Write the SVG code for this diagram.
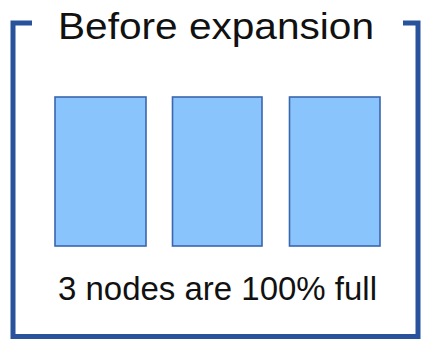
<svg xmlns="http://www.w3.org/2000/svg" width="421" height="339" viewBox="0 0 421 339">
<style>
.frame{fill:none;stroke:#28529C;stroke-width:5}
.node rect{fill:#89C4FC;stroke:#3A66AE;stroke-width:1.6}
.t{font-family:"Liberation Sans",Arial,sans-serif;fill:#111}
</style>
<rect width="421" height="339" fill="#fff"/>
<g id="frame">
<polyline class="frame" points="32,23 13,23 13,336.5 418,336.5 418,23 403,23"/>
</g>
<text id="title" class="t" x="58" y="39" font-size="36" textLength="316" lengthAdjust="spacingAndGlyphs">Before expansion</text>
<g id="node1" class="node"><rect x="55" y="97" width="91" height="149"/></g>
<g id="node2" class="node"><rect x="172.5" y="97" width="89.5" height="149"/></g>
<g id="node3" class="node"><rect x="289.5" y="97" width="90.5" height="149"/></g>
<g id="connectors"></g>
<text id="caption" class="t" x="58" y="300" font-size="33" textLength="319" lengthAdjust="spacingAndGlyphs" fill="#222">3 nodes are 100% full</text>
</svg>
